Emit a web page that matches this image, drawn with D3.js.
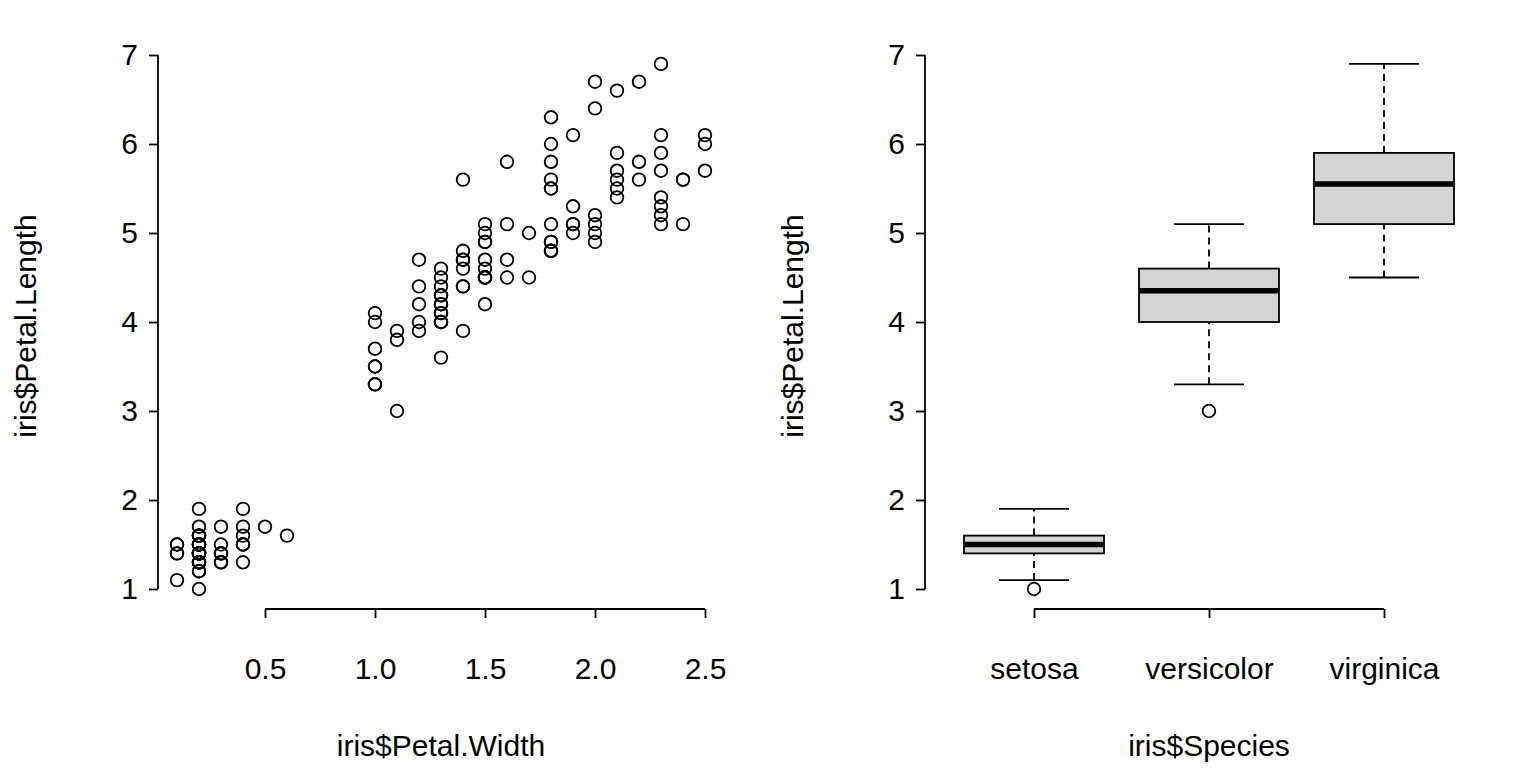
<!DOCTYPE html>
<html><head><meta charset="utf-8">
<script src="https://cdn.jsdelivr.net/npm/d3@7"></script>
<style>body{margin:0;background:#fff}text{font-family:"Liberation Sans",Arial,sans-serif}</style>
</head><body><svg id="c" width="1536" height="768"></svg>
<script>
const petalLength=[1.4,1.4,1.3,1.5,1.4,1.7,1.4,1.5,1.4,1.5,1.5,1.6,1.4,1.1,1.2,1.5,1.3,1.4,1.7,1.5,1.7,1.5,1.0,1.7,1.9,1.6,1.6,1.5,1.4,1.6,1.6,1.5,1.5,1.4,1.5,1.2,1.3,1.4,1.3,1.5,1.3,1.3,1.3,1.6,1.9,1.4,1.6,1.4,1.5,1.4,
4.7,4.5,4.9,4.0,4.6,4.5,4.7,3.3,4.6,3.9,3.5,4.2,4.0,4.7,3.6,4.4,4.5,4.1,4.5,3.9,4.8,4.0,4.9,4.7,4.3,4.4,4.8,5.0,4.5,3.5,3.8,3.7,3.9,5.1,4.5,4.5,4.7,4.4,4.1,4.0,4.4,4.6,4.0,3.3,4.2,4.2,4.2,4.3,3.0,4.1,
6.0,5.1,5.9,5.6,5.8,6.6,4.5,6.3,5.8,6.1,5.1,5.3,5.5,5.0,5.1,5.3,5.5,6.7,6.9,5.0,5.7,4.9,6.7,4.9,5.7,6.0,4.8,4.9,5.6,5.8,6.1,6.4,5.6,5.1,5.6,6.1,5.6,5.5,4.8,5.4,5.6,5.1,5.1,5.9,5.7,5.2,5.0,5.2,5.4,5.1];
const petalWidth=[0.2,0.2,0.2,0.2,0.2,0.4,0.3,0.2,0.2,0.1,0.2,0.2,0.1,0.1,0.2,0.4,0.4,0.3,0.3,0.3,0.2,0.4,0.2,0.5,0.2,0.2,0.4,0.2,0.2,0.2,0.2,0.4,0.1,0.2,0.2,0.2,0.2,0.1,0.2,0.2,0.3,0.3,0.2,0.6,0.4,0.3,0.2,0.2,0.2,0.2,
1.4,1.5,1.5,1.3,1.5,1.3,1.6,1.0,1.3,1.4,1.0,1.5,1.0,1.4,1.3,1.4,1.5,1.0,1.5,1.1,1.8,1.3,1.5,1.2,1.3,1.4,1.4,1.7,1.5,1.0,1.1,1.0,1.2,1.6,1.5,1.6,1.5,1.3,1.3,1.3,1.2,1.4,1.2,1.0,1.3,1.2,1.3,1.3,1.1,1.3,
2.5,1.9,2.1,1.8,2.2,2.1,1.7,1.8,1.8,2.5,2.0,1.9,2.1,2.0,2.4,2.3,1.8,2.2,2.3,1.5,2.3,2.0,2.0,1.8,2.1,1.8,1.8,1.8,2.1,1.6,1.9,2.0,2.2,1.5,1.4,2.3,2.4,1.8,1.8,2.1,2.4,2.3,1.9,2.3,2.5,2.3,1.9,2.0,2.3,1.8];
const species=["setosa","versicolor","virginica"];
// lower whisker, Q1, median, Q3, upper whisker, outliers
const boxStats=[[1.1,1.4,1.5,1.6,1.9,[1.0]],[3.3,4.0,4.35,4.6,5.1,[3.0]],[4.5,5.1,5.55,5.9,6.9,[]]];
const xTicks=[0.5,1.0,1.5,2.0,2.5];
const yTicks=[1,2,3,4,5,6,7];

const svg=d3.select("#c");
const FS=30, SW=1.8;
const y=d3.scaleLinear().domain([1,7]).range([589,55]);
function yAxis(x0){
  const g=svg.append("g").attr("transform",`translate(${x0},0)`)
   .call(d3.axisLeft(y).tickValues(yTicks).tickSize(9).tickPadding(11).tickFormat(d3.format("d")));
  g.select(".domain").attr("d",`M0,${y(1)}V${y(7)}`);
  g.selectAll("path,line").attr("stroke","#000").attr("stroke-width",SW);
  g.selectAll("text").attr("font-size",FS).attr("font-family","Liberation Sans, Arial").attr("fill","#000");
}
function styleX(g){
  g.selectAll("path,line").attr("stroke","#000").attr("stroke-width",SW);
  g.selectAll("text").attr("font-size",FS).attr("font-family","Liberation Sans, Arial").attr("fill","#000");
}
// left panel
const x=d3.scaleLinear().domain([0.1,2.5]).range([177,705]);
yAxis(158);
const gx=svg.append("g").attr("transform","translate(0,609)")
  .call(d3.axisBottom(x).tickValues(xTicks).tickSize(9).tickPadding(40).tickFormat(d3.format(".1f")));
gx.select(".domain").attr("d",`M${x(0.5)},0H${x(2.5)}`);
styleX(gx);
svg.append("g").selectAll("circle").data(petalWidth).join("circle")
  .attr("cx",d=>x(d)).attr("cy",(d,i)=>y(petalLength[i])).attr("r",6.3)
  .attr("fill","none").attr("stroke","#000").attr("stroke-width",SW);
svg.append("text").attr("x",441).attr("y",756).attr("text-anchor","middle").attr("font-size",FS).text("iris$Petal.Width");
svg.append("text").attr("transform","translate(36,326) rotate(-90)").attr("text-anchor","middle").attr("font-size",FS).text("iris$Petal.Length");

// right panel
const xb=d3.scalePoint().domain(species).range([1034,1384]);
yAxis(925);
const gb=svg.append("g").attr("transform","translate(0,609)")
  .call(d3.axisBottom(xb).tickSize(9).tickPadding(40));
gb.select(".domain").attr("d",`M${xb("setosa")},0H${xb("virginica")}`);
styleX(gb);
const hw=70, cw=35;
boxStats.forEach((s,i)=>{
  const cx=xb(species[i]);
  const g=svg.append("g").attr("stroke","#000").attr("stroke-width",SW);
  g.append("line").attr("x1",cx).attr("x2",cx).attr("y1",y(s[0])).attr("y2",y(s[1])).attr("stroke-dasharray","7,5");
  g.append("line").attr("x1",cx).attr("x2",cx).attr("y1",y(s[3])).attr("y2",y(s[4])).attr("stroke-dasharray","7,5");
  g.append("line").attr("x1",cx-cw).attr("x2",cx+cw).attr("y1",y(s[0])).attr("y2",y(s[0]));
  g.append("line").attr("x1",cx-cw).attr("x2",cx+cw).attr("y1",y(s[4])).attr("y2",y(s[4]));
  g.append("rect").attr("x",cx-hw).attr("width",2*hw).attr("y",y(s[3])).attr("height",y(s[1])-y(s[3])).attr("fill","#d3d3d3");
  g.append("line").attr("x1",cx-hw).attr("x2",cx+hw).attr("y1",y(s[2])).attr("y2",y(s[2])).attr("stroke-width",5.5);
  s[5].forEach(o=>g.append("circle").attr("cx",cx).attr("cy",y(o)).attr("r",6.3).attr("fill","none"));
});
svg.append("text").attr("x",1209).attr("y",756).attr("text-anchor","middle").attr("font-size",FS).text("iris$Species");
svg.append("text").attr("transform","translate(803,326) rotate(-90)").attr("text-anchor","middle").attr("font-size",FS).text("iris$Petal.Length");
</script></body></html>
